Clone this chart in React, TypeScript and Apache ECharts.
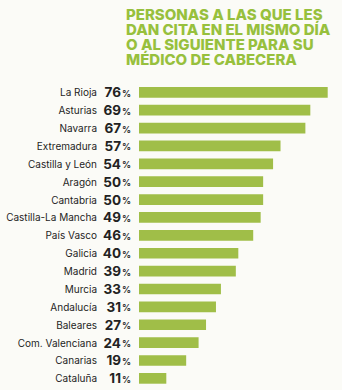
import React, { useEffect, useRef } from "react";
import * as echarts from "echarts";

const regions = [
  "La Rioja",
  "Asturias",
  "Navarra",
  "Extremadura",
  "Castilla y León",
  "Aragón",
  "Cantabria",
  "Castilla-La Mancha",
  "País Vasco",
  "Galicia",
  "Madrid",
  "Murcia",
  "Andalucía",
  "Baleares",
  "Com. Valenciana",
  "Canarias",
  "Cataluña",
];

const percentages = [76, 69, 67, 57, 54, 50, 50, 49, 46, 40, 39, 33, 31, 27, 24, 19, 11];

const titleLines = [
  "PERSONAS A LAS QUE LES",
  "DAN CITA EN EL MISMO DÍA",
  "O AL SIGUIENTE PARA SU",
  "MÉDICO DE CABECERA",
];

const GREEN_TITLE = "#97c03d";
const GREEN_BAR = "#a0be48";
const BG = "#fbfbf7";
const FONT = "Inter, 'Noto Sans', sans-serif";

export default function App() {
  const ref = useRef<HTMLDivElement>(null);

  useEffect(() => {
    document.body.style.margin = "0";
    if (!ref.current) return;
    const chart = echarts.init(ref.current, undefined, { renderer: "svg" });
    const valueByName: Record<string, number> = {};
    regions.forEach((r, i) => (valueByName[r] = percentages[i]));

    chart.setOption({
      animation: false,
      backgroundColor: BG,
      // Headline, one text element per line
      graphic: titleLines.map((line, i) => ({
        type: "text",
        left: 126,
        top: 7 + i * 15,
        style: {
          text: line,
          fill: GREEN_TITLE,
          font: `800 15px ${FONT}`,
          lineHeight: 14,
        },
      })),
      grid: { left: 139, right: 14.3, top: 83.4, bottom: 2.7, containLabel: false },
      xAxis: {
        type: "value",
        min: 0,
        max: 76,
        show: false,
      },
      yAxis: {
        type: "category",
        data: regions,
        inverse: true,
        axisLine: { show: false },
        axisTick: { show: false },
        axisLabel: {
          margin: 8,
          formatter: (name: string) => `{n|${name}}{v|${valueByName[name]}}{p|%}`,
          rich: {
            n: {
              fontFamily: FONT,
              fontSize: 10,
              color: "#1e1e1e",
              padding: [0, 9, 0, 0],
            },
            v: {
              fontFamily: FONT,
              fontSize: 13.5,
              fontWeight: 700,
              color: "#222",
              width: 15,
              align: "right",
            },
            p: {
              fontFamily: FONT,
              fontSize: 9,
              fontWeight: 600,
              color: "#222",
              width: 10,
              align: "right",
              padding: [2, 0, 0, 0],
            },
          },
        },
      },
      series: [
        {
          type: "bar",
          data: percentages,
          barWidth: 10.7,
          itemStyle: { color: GREEN_BAR },
        },
      ],
    });
    return () => chart.dispose();
  }, []);

  return <div ref={ref} style={{ width: 342, height: 390 }} />;
}
